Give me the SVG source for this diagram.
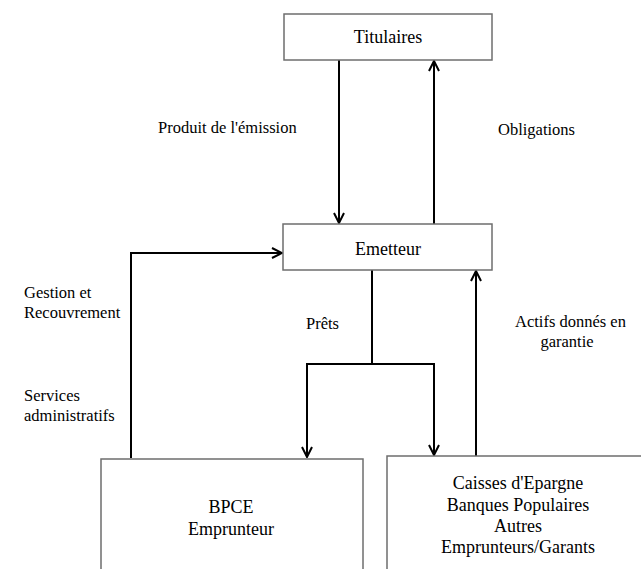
<svg xmlns="http://www.w3.org/2000/svg" width="641" height="569" viewBox="0 0 641 569">
<style>
.box{fill:#fff;stroke:#6e6e6e;stroke-width:1.5}
.ln{fill:none;stroke:#000;stroke-width:2}
.t{font-family:"Liberation Serif","Times New Roman",serif;font-size:18px;fill:#000}
.s{font-family:"Liberation Serif","Times New Roman",serif;font-size:16.5px;fill:#000}
</style>
<defs>
<marker id="ah" viewBox="0 0 12 12" refX="11" refY="6" markerWidth="12" markerHeight="12" markerUnits="userSpaceOnUse" orient="auto">
<path d="M1,1 L11,6 L1,11" fill="none" stroke="#000" stroke-width="2"/>
</marker>
</defs>
<rect width="641" height="569" fill="#fff"/>
<g id="connectors">
<line class="ln" x1="339" y1="60" x2="339" y2="223" marker-end="url(#ah)"/>
<line class="ln" x1="434" y1="224" x2="434" y2="61" marker-end="url(#ah)"/>
<polyline class="ln" points="131,458 131,253 282,253" marker-end="url(#ah)"/>
<polyline class="ln" points="372,270 372,364"/>
<polyline class="ln" points="307,364 434,364"/>
<line class="ln" x1="307" y1="363" x2="307" y2="457" marker-end="url(#ah)"/>
<line class="ln" x1="434" y1="363" x2="434" y2="455" marker-end="url(#ah)"/>
<line class="ln" x1="476" y1="456" x2="476" y2="271" marker-end="url(#ah)"/>
</g>
<g id="titulaires">
<rect class="box" x="284" y="14" width="208" height="46"/>
<text class="t" x="388" y="43" text-anchor="middle">Titulaires</text>
</g>
<g id="emetteur">
<rect class="box" x="283" y="224" width="209" height="46"/>
<text class="t" x="388" y="255" text-anchor="middle">Emetteur</text>
</g>
<g id="bpce">
<rect class="box" x="101" y="459" width="262" height="120"/>
<text class="t" x="231" y="513" text-anchor="middle">BPCE</text>
<text class="t" x="231" y="535" text-anchor="middle">Emprunteur</text>
</g>
<g id="caisses">
<rect class="box" x="387" y="456" width="270" height="123"/>
<text class="t" x="518" y="489" text-anchor="middle">Caisses d'Epargne</text>
<text class="t" x="518" y="511" text-anchor="middle">Banques Populaires</text>
<text class="t" x="518" y="532" text-anchor="middle">Autres</text>
<text class="t" x="518" y="553" text-anchor="middle">Emprunteurs/Garants</text>
</g>
<g id="labels">
<text class="s" x="158" y="133">Produit de l'émission</text>
<text class="s" x="498" y="135">Obligations</text>
<text class="s" x="24" y="298">Gestion et</text>
<text class="s" x="24" y="318">Recouvrement</text>
<text class="s" x="306" y="329">Prêts</text>
<text class="s" x="515" y="327">Actifs donnés en</text>
<text class="s" x="567" y="347" text-anchor="middle">garantie</text>
<text class="s" x="24" y="401">Services</text>
<text class="s" x="24" y="421">administratifs</text>
</g>
</svg>
